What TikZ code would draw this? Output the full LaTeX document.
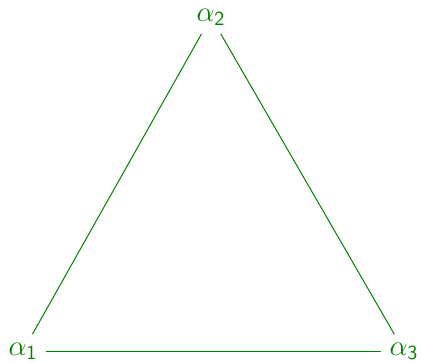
\documentclass[tikz,border=0pt]{standalone}
\begin{document}
\begin{tikzpicture}[x=0.5pt,y=-0.5pt,
  lab/.style={text=green!50!black,font=\fontsize{14.5}{17}\selectfont,inner sep=4pt},
  edge/.style={draw=green!50!black,line width=0.5pt}]
\useasboundingbox (0,0) rectangle (422,363);
\node[lab] (a2) at (211,17) {$\alpha_{\mathsf{2}}$};
\node[lab] (a1) at (23,351) {$\alpha_{\mathsf{1}}$};
\node[lab] (a3) at (404,351) {$\alpha_{\mathsf{3}}$};
\draw[edge] (a2) -- (a1);
\draw[edge] (a2) -- (a3);
\draw[edge] (a1) -- (a3);
\end{tikzpicture}
\end{document}
